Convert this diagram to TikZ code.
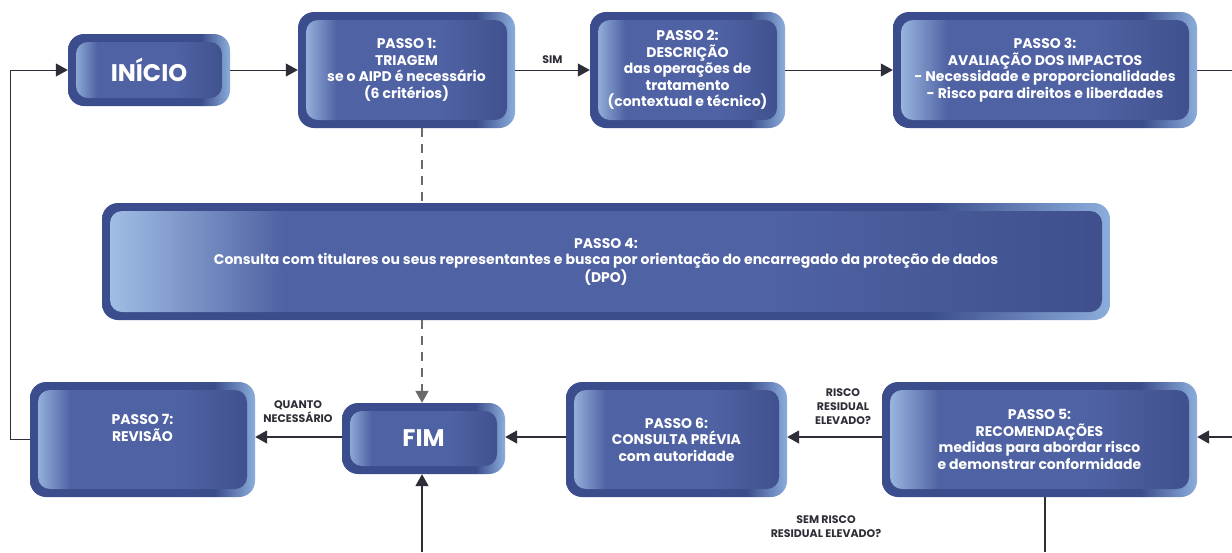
\documentclass[tikz,border=0pt]{standalone}
\usepackage{fontspec}
\setmainfont{Poppins}
\usetikzlibrary{arrows.meta}
\definecolor{frameD}{HTML}{3B4D8C}
\definecolor{frameL}{HTML}{8CAEDC}
\definecolor{inL}{HTML}{A4C2E8}
\definecolor{inM}{HTML}{4F62A3}
\definecolor{inD}{HTML}{3F4F8D}
\definecolor{lineC}{HTML}{2E2E38}
\definecolor{dashC}{HTML}{6A6A6A}
\pgfdeclarehorizontalshading{frameshade}{100bp}{color(0bp)=(frameD); color(25bp)=(frameD); color(66bp)=(frameD); color(75bp)=(frameL); color(100bp)=(frameL)}
\pgfdeclarehorizontalshading{innershade}{100bp}{color(0bp)=(inL); color(25bp)=(inL); color(34bp)=(inM); color(58bp)=(inM); color(75bp)=(inD); color(100bp)=(inD)}
\tikzset{
  stepbox/.style={shade, shading=frameshade, rounded corners=16pt, inner sep=0pt, align=center, text=white,
    font=\bfseries\fontsize{14}{16.5}\selectfont,
    path picture={\shade[shading=innershade, rounded corners=12pt]
      ([shift={(8pt,-8pt)}]path picture bounding box.north west) rectangle
      ([shift={(-8pt,8pt)}]path picture bounding box.south east);}},
  bigbox/.style={stepbox, font=\bfseries\fontsize{24}{28}\selectfont},
  thinconn/.style={draw=lineC, line width=1pt, -{Triangle[length=12pt,width=13pt]}},
  thickconn/.style={draw=lineC, line width=1.8pt, -{Triangle[length=12pt,width=13pt]}},
  plainthin/.style={draw=lineC, line width=1pt},
  plainthick/.style={draw=lineC, line width=1.8pt},
  dashconn/.style={draw=dashC, line width=1.6pt, dash pattern=on 9pt off 7pt},
  lbl/.style={text=lineC, align=center, inner sep=0pt, font=\bfseries\fontsize{11}{14}\selectfont},
}
\begin{document}
\begin{tikzpicture}[x=1pt, y=-1pt]
\useasboundingbox[fill=white] (0,0) rectangle (1232,552);

\node[bigbox, minimum width=162pt, minimum height=72pt] (ini) at (149,70) {INÍCIO};
\node[stepbox, minimum width=217pt, minimum height=116pt] (p1) at (406.5,70) {PASSO 1:\\TRIAGEM\\se o AIPD é necessário\\(6 critérios)};
\node[stepbox, minimum width=195pt, minimum height=116pt] (p2) at (687.5,70) {PASSO 2:\\DESCRIÇÃO\\das operações de\\tratamento\\(contextual e técnico)};
\node[stepbox, minimum width=304pt, minimum height=116pt] (p3) at (1045,70) {PASSO 3:\\AVALIAÇÃO DOS IMPACTOS\\- Necessidade e proporcionalidades\\- Risco para direitos e liberdades};
\node[stepbox, minimum width=1008pt, minimum height=117pt] (p4) at (606,261.5) {PASSO 4:\\Consulta com titulares ou seus representantes e busca por orientação do encarregado da proteção de dados\\(DPO)};
\node[stepbox, minimum width=225pt, minimum height=115pt] (p7) at (142.5,439.5) {PASSO 7:\\REVISÃO\\[7pt]};
\node[bigbox, minimum width=163pt, minimum height=71pt] (fim) at (423.5,438.5) {FIM};
\node[stepbox, minimum width=221pt, minimum height=115pt] (p6) at (676.5,439.5) {PASSO 6:\\CONSULTA PRÉVIA\\com autoridade};
\node[stepbox, minimum width=315pt, minimum height=115pt] (p5) at (1039.5,439.5) {PASSO 5:\\RECOMENDAÇÕES\\medidas para abordar risco\\e demonstrar conformidade};

\coordinate (lft) at (10,439.5);
\coordinate (rt1) at (1232,70);
\coordinate (rt2) at (1232,437);
\coordinate (b1) at (1045,552);
\coordinate (b2) at (422,552);
\coordinate (dx) at (422,0);

\draw[plainthin] (p7.west) -- (lft);
\draw[thinconn] (lft) |- (ini.west);
\draw[thinconn] (ini.east) -- (p1.west);
\draw[thinconn] (p1.east) -- node[lbl, above=6pt] (sim) {SIM} (p2.west);
\draw[thinconn] (p2.east) -- (p3.west);
\draw[plainthin] (p3.east) -- (rt1);
\draw[thickconn] (rt2) -- (p5.east |- rt2);
\draw[thickconn] (p5.west |- rt2) -- (p6.east |- rt2);
\draw[thickconn] (p6.west |- rt2) -- (fim.east |- rt2);
\draw[thickconn] (fim.west |- rt2) -- (p7.east |- rt2);
\draw[plainthick] (p5.south -| b1) -- (b1);
\draw[thickconn] (b2) -- (fim.south -| b2);
\draw[dashconn] (p1.south -| dx) -- (p4.north -| dx);
\draw[dashconn, -{Triangle[length=12pt,width=13pt]}] (p4.south -| dx) -- (fim.north -| dx);

\node[lbl] (lq) at (298,412) {QUANTO\\NECESSÁRIO};
\node[lbl] (lr) at (843,407) {RISCO\\RESIDUAL\\ELEVADO?};
\node[lbl] (ls) at (826,527) {SEM RISCO\\RESIDUAL ELEVADO?};
\end{tikzpicture}
\end{document}
